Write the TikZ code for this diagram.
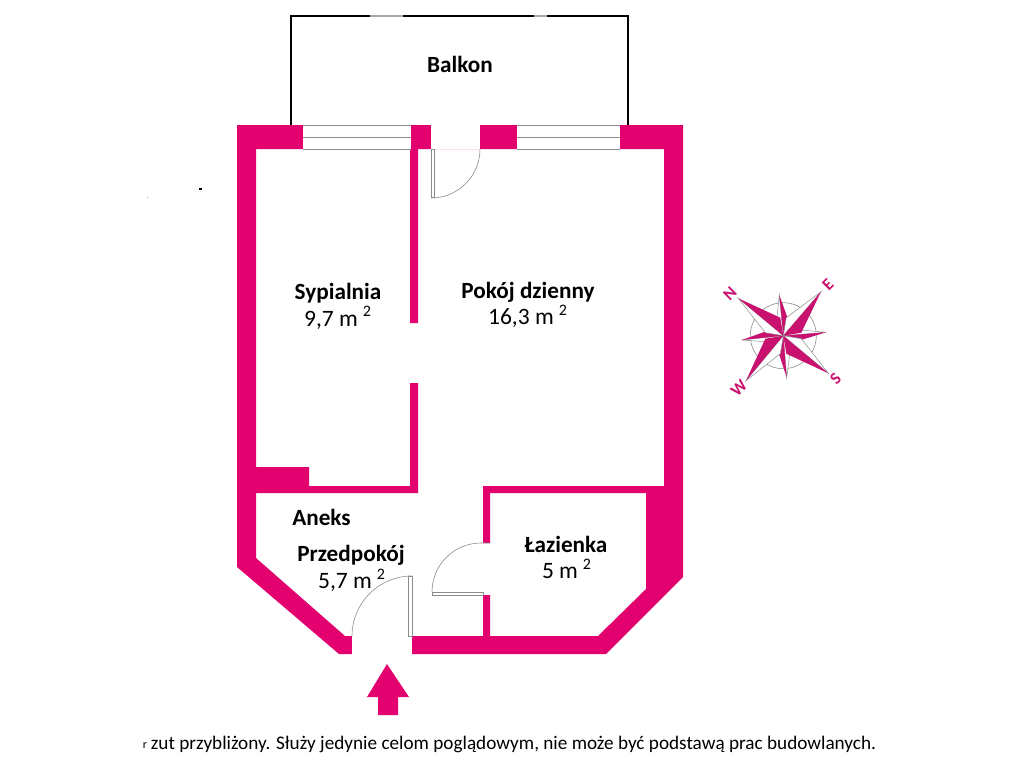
\documentclass[tikz,border=0pt]{standalone}
\usepackage{fontspec}
\setmainfont{Carlito}
\definecolor{wall}{HTML}{E3006F}
\definecolor{wallroom}{HTML}{C9116F}
\definecolor{linegray}{HTML}{8C8C8C}
\newcommand{\compassarm}[7]{%
  \draw[linegray,line width=.5pt,fill=white] (783.3,335.7) -- (#2,#3) -- (#6,#7) -- cycle;
  \fill[wallroom] (783.3,335.7) -- (#2,#3) -- (#4,#5) -- cycle;}
\tikzset{
  x=1pt,y=-1pt,
  roomname/.style={font=\fontsize{23.2}{25}\selectfont\bfseries,text=black,inner sep=0pt},
  area/.style={font=\fontsize{23.5}{25}\selectfont,text=black,inner sep=0pt},
  power/.style={font=\fontsize{16}{17}\selectfont,text=black,inner sep=0pt},
  compassletter/.style={font=\fontsize{17}{18}\selectfont\bfseries,text=wallroom,inner sep=0pt},
  thin gray/.style={draw=linegray,line width=.7pt},
  opening/.style={fill=white,draw=none},
}
\begin{document}
\begin{tikzpicture}
\useasboundingbox (0,0) rectangle (1024,768);
\fill[white] (0,0) rectangle (1024,768);
% balcony
\draw[black,line width=1.9pt,line cap=rect,line join=miter] (291,125) -- (291,16) -- (628,16) -- (628,125);
\draw[line width=1.9pt,color=gray!70] (370,16) -- (403,16) (534,16) -- (547,16);
% walls
\fill[wall,even odd rule]
  (237,125) -- (683,125) -- (683,577) -- (606,654) -- (339,654) -- (237,567) -- cycle
  (256,149) -- (410,149) -- (410,323) -- (418,323) -- (418,149) -- (664,149) -- (664,486)
  -- (483,486) -- (483,543) -- (490,543) -- (490,493) -- (646,493) -- (646,589) -- (598,636)
  -- (490,636) -- (490,595) -- (483,595) -- (483,636) -- (345,636) -- (256,558) -- (256,493)
  -- (418,493) -- (418,383) -- (410,383) -- (410,486) -- (309,486) -- (309,467) -- (256,467) -- cycle;
% openings
\fill[opening] (303,125) rectangle (411,149);
\fill[opening] (517,125) rectangle (620,149);
\fill[opening] (431,125) rectangle (480,149);
\fill[opening] (352,636) rectangle (412,654.5);
% windows
\draw[thin gray] (303,125.5) -- (411,125.5) (303,137) -- (411,137) (303,149) -- (411,149);
\draw[thin gray] (517,125.5) -- (620,125.5) (517,137) -- (620,137) (517,149) -- (620,149);
% doors
\draw[linegray,line width=.6pt,fill=white] (431,149) rectangle (434,197);
\draw[linegray,line width=.6pt] (480,149) arc[start angle=0,end angle=90,radius=49];
\draw[linegray,line width=.6pt,fill=white] (432,592) rectangle (483,595);
\draw[linegray,line width=.6pt] (432,592) arc[start angle=180,end angle=270,radius=49] -- (490,543);
\draw[linegray,line width=.6pt,fill=white] (408,576) rectangle (412,636);
\draw[linegray,line width=.6pt] (352,636) arc[start angle=180,end angle=270,radius=60] -- (408,576);
% entry arrow
\fill[wall] (387,664) -- (409,697) -- (398,697) -- (398,715) -- (378,715) -- (378,697) -- (367,697) -- cycle;
% labels
\node[roomname] (balkon) at (460,64.5) {Balkon};
\node[roomname] (sypialnia) at (338,293) {Sypialnia};
\node[area] (sypm) at (331,320.5) {9,7 m};
\node[power] (sypp) at (367,311) {2};
\node[roomname] (pokoj) at (528,292) {Pokój dzienny};
\node[area] (pokm) at (521,318.5) {16,3 m};
\node[power] (pokp) at (563,310) {2};
\node[roomname] (aneks) at (321.5,517.5) {Aneks};
\node[roomname] (przed) at (351,555.5) {Przedpokój};
\node[area] (przm) at (345,582.5) {5,7 m};
\node[power] (przp) at (381,574) {2};
\node[roomname] (laz) at (566,544.5) {Łazienka};
\node[area] (lazm) at (560,571.5) {5 m};
\node[power] (lazp) at (587,564) {2};
\node[font=\fontsize{19.2}{21}\selectfont,text=black,inner sep=0pt] (foot) at (513.5,744) {zut przybliżony. Służy jedynie celom poglądowym, nie może być podstawą prac budowlanych.};
\node[font=\fontsize{12}{13}\selectfont,text=black,inner sep=0pt] (footr) at (145,746) {r};
% specks
\fill[black] (199,187.5) rectangle (201.5,189.5);
\fill[black!35] (146.5,197) rectangle (148,198);
% compass
\draw[linegray,line width=.6pt] (783.3,335.7) circle[radius=33];
\compassarm{n}{779.3}{295}{788.3}{320}{776.7}{320}
\compassarm{e}{826}{332.3}{801}{340}{801}{330}
\compassarm{s}{786.7}{377.7}{778.3}{351.7}{790}{351.7}
\compassarm{w}{741.7}{340}{765}{331.7}{765}{341.7}
\compassarm{nw}{738.3}{298.3}{780.3}{317.7}{765.3}{332.7}
\compassarm{ne}{821}{291.7}{801.3}{332.7}{786.3}{317.7}
\compassarm{se}{828.3}{373.3}{786.3}{353.7}{801.3}{338.7}
\compassarm{sw}{746}{380.7}{765.3}{338.7}{780.3}{353.7}
\node[compassletter,rotate=45] (cn) at (730,294) {N};
\node[compassletter,rotate=45] (ce) at (828,285) {E};
\node[compassletter,rotate=45] (cs) at (835.5,379) {S};
\node[compassletter,rotate=45] (cw) at (739,388) {W};
\end{tikzpicture}
\end{document}
